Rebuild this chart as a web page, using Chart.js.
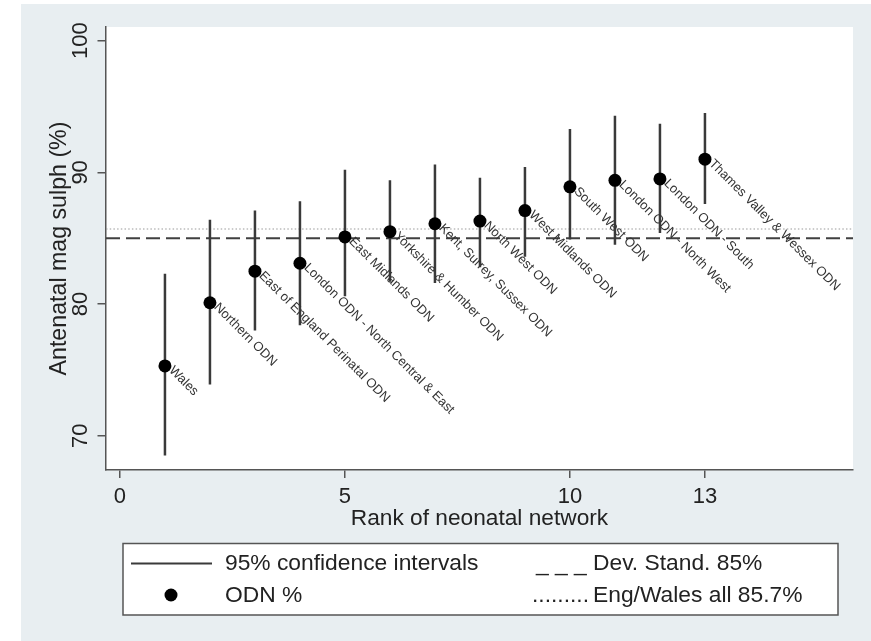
<!DOCTYPE html>
<html>
<head>
<meta charset="utf-8">
<script src="https://cdn.jsdelivr.net/npm/chart.js@4/dist/chart.umd.min.js"></script>
<style>
  html, body { margin: 0; padding: 0; background: #fff; }
  #wrap { position: absolute; left: 0; top: 0; width: 871px; height: 641px; }
</style>
</head>
<body>
<div id="wrap"><canvas id="odnChart" width="871" height="641"></canvas></div>
<script>
// data
const ranks = [1, 2, 3, 4, 5, 6, 7, 8, 9, 10, 11, 12, 13];
const networks = [
  "Wales",
  "Northern ODN",
  "East of England Perinatal ODN",
  "London ODN - North Central & East",
  "East Midlands ODN",
  "Yorkshire & Humber ODN",
  "Kent, Surrey, Sussex ODN",
  "North West ODN",
  "West Midlands ODN",
  "South West ODN",
  "London ODN - North West",
  "London ODN - South",
  "Thames Valley & Wessex ODN"
];
const odnPct = [75.3, 80.1, 82.5, 83.1, 85.1, 85.5, 86.1, 86.3, 87.1, 88.9, 89.4, 89.5, 91.0];
const ciLow = [68.5, 73.9, 78.0, 78.4, 80.6, 81.7, 81.6, 82.8, 83.6, 84.9, 84.5, 85.4, 87.6];
const ciHigh = [82.3, 86.4, 87.1, 87.8, 90.2, 89.4, 90.6, 89.6, 90.4, 93.3, 94.3, 93.7, 94.5];
const devStandard = 85;
const engWalesAll = 85.7;
const xTicks = [0, 5, 10, 13];
const yTicks = [70, 80, 90, 100];
const xRange = [-0.31, 16.29];
const yRange = [67.40, 101.04];

const legendItems = [
  "95% confidence intervals",
  "ODN %",
  "Dev. Stand. 85%",
  "Eng/Wales all 85.7%"
];

const textFont = "Arial, 'Liberation Sans', sans-serif";

// ci segments, null breaks the line between networks
const ciData = [];
ranks.forEach((r, i) => {
  ciData.push({x: r, y: ciLow[i]});
  ciData.push({x: r, y: ciHigh[i]});
  ciData.push({x: r, y: null});
});

const dotData = ranks.map((r, i) => ({x: r, y: odnPct[i]}));

// backgrounds: grey graph region, white plot region
const backgroundPlugin = {
  id: "bg",
  beforeDraw(chart) {
    const ctx = chart.ctx;
    const a = chart.chartArea;
    ctx.save();
    ctx.fillStyle = "#ffffff";
    ctx.fillRect(0, 0, chart.width, chart.height);
    ctx.fillStyle = "#e8eef1";
    ctx.fillRect(21, 4, chart.width - 21, chart.height - 4);
    ctx.fillStyle = "#ffffff";
    ctx.fillRect(a.left, a.top, a.right - a.left, a.bottom - a.top);
    ctx.restore();
  }
};

// rotated y tick labels and point labels
const labelPlugin = {
  id: "labels",
  afterDatasetsDraw(chart) {
    const ctx = chart.ctx;
    const yScale = chart.scales.y;
    ctx.save();
    ctx.fillStyle = "#222";
    ctx.font = "22px " + textFont;
    ctx.textAlign = "center";
    ctx.textBaseline = "middle";
    yTicks.forEach(v => {
      ctx.save();
      ctx.translate(80.5, yScale.getPixelForValue(v));
      ctx.rotate(-Math.PI / 2);
      ctx.fillText(String(v), 0, 0);
      ctx.restore();
    });

    const meta = chart.getDatasetMeta(0);
    ctx.fillStyle = "#333";
    ctx.font = "13px " + textFont;
    ctx.textAlign = "left";
    meta.data.forEach((pt, i) => {
      ctx.save();
      ctx.translate(pt.x + 6, pt.y + 2.5);
      ctx.rotate(Math.PI / 4);
      ctx.fillText(networks[i], 0, 0);
      ctx.restore();
    });
    ctx.restore();
  }
};

// stata style legend box under the plot
const legendPlugin = {
  id: "legendBox",
  afterDraw(chart) {
    const ctx = chart.ctx;
    ctx.save();
    ctx.fillStyle = "#ffffff";
    ctx.fillRect(123, 543.5, 715, 71.5);
    ctx.strokeStyle = "#555";
    ctx.lineWidth = 1.5;
    ctx.strokeRect(123, 543.5, 715, 71.5);

    ctx.strokeStyle = "#3a3a3a";
    ctx.lineWidth = 2;
    ctx.beginPath();
    ctx.moveTo(131, 563.5);
    ctx.lineTo(212, 563.5);
    ctx.stroke();

    ctx.fillStyle = "#000";
    ctx.beginPath();
    ctx.arc(171, 595, 6.5, 0, Math.PI * 2);
    ctx.fill();

    ctx.fillStyle = "#222";
    ctx.font = "22.8px " + textFont;
    ctx.textAlign = "left";
    ctx.textBaseline = "middle";
    ctx.fillText(legendItems[0], 225, 564);
    ctx.fillText(legendItems[1], 225, 595.5);
    ctx.fillText("_ _ _", 536, 565);
    ctx.fillText(legendItems[2], 593, 564);
    ctx.fillText(".........", 532, 595.5);
    ctx.fillText(legendItems[3], 593, 595.5);
    ctx.restore();
  }
};

const config = {
  type: "line",
  data: {
    datasets: [
      {
        label: "ODN %",
        data: dotData,
        showLine: false,
        pointRadius: 6.5,
        pointBorderWidth: 0,
        pointBackgroundColor: "#000",
        borderColor: "#000"
      },
      {
        label: "95% confidence intervals",
        data: ciData,
        borderColor: "#3a3a3a",
        borderWidth: 2.5,
        pointRadius: 0,
        spanGaps: false
      },
      {
        label: "Dev. Stand. 85%",
        data: [{x: xRange[0], y: devStandard}, {x: xRange[1], y: devStandard}],
        borderColor: "#404040",
        borderWidth: 2,
        borderDash: [14, 6],
        pointRadius: 0
      },
      {
        label: "Eng/Wales all 85.7%",
        data: [{x: xRange[0], y: engWalesAll}, {x: xRange[1], y: engWalesAll}],
        borderColor: "#9a9a9a",
        borderWidth: 1.2,
        borderDash: [1.5, 2.2],
        pointRadius: 0
      }
    ]
  },
  options: {
    responsive: false,
    devicePixelRatio: 1,
    animation: false,
    events: [],
    layout: { padding: { left: 0, top: 27, right: 18, bottom: 0 } },
    plugins: {
      legend: { display: false },
      tooltip: { enabled: false }
    },
    scales: {
      x: {
        type: "linear",
        min: xRange[0],
        max: xRange[1],
        afterBuildTicks: s => { s.ticks = xTicks.map(v => ({value: v})); },
        afterFit: s => { s.height = 171; },
        border: { display: true, color: "#555", width: 1.5 },
        grid: { display: true, drawOnChartArea: false, drawTicks: true, tickLength: 8, color: "#555", lineWidth: 1.5 },
        ticks: { color: "#222", font: { size: 22, family: textFont }, padding: 6, maxRotation: 0, autoSkip: false },
        title: {
          display: true,
          text: "Rank of neonatal network",
          color: "#222",
          font: { size: 22.7, family: textFont },
          padding: { top: 0, bottom: 109 }
        }
      },
      y: {
        type: "linear",
        min: yRange[0],
        max: yRange[1],
        afterBuildTicks: s => { s.ticks = yTicks.map(v => ({value: v})); },
        afterFit: s => { s.width = 106; },
        border: { display: true, color: "#555", width: 1.5 },
        grid: { display: true, drawOnChartArea: false, drawTicks: true, tickLength: 8.5, color: "#555", lineWidth: 1.5 },
        ticks: { display: false },
        title: {
          display: true,
          text: "Antenatal mag sulph (%)",
          color: "#222",
          font: { size: 23.2, family: textFont },
          padding: { top: 46, bottom: 0 }
        }
      }
    }
  },
  plugins: [backgroundPlugin, labelPlugin, legendPlugin]
};

const odnChart = new Chart(document.querySelector("#odnChart").getContext("2d"), config);
</script>
</body>
</html>
